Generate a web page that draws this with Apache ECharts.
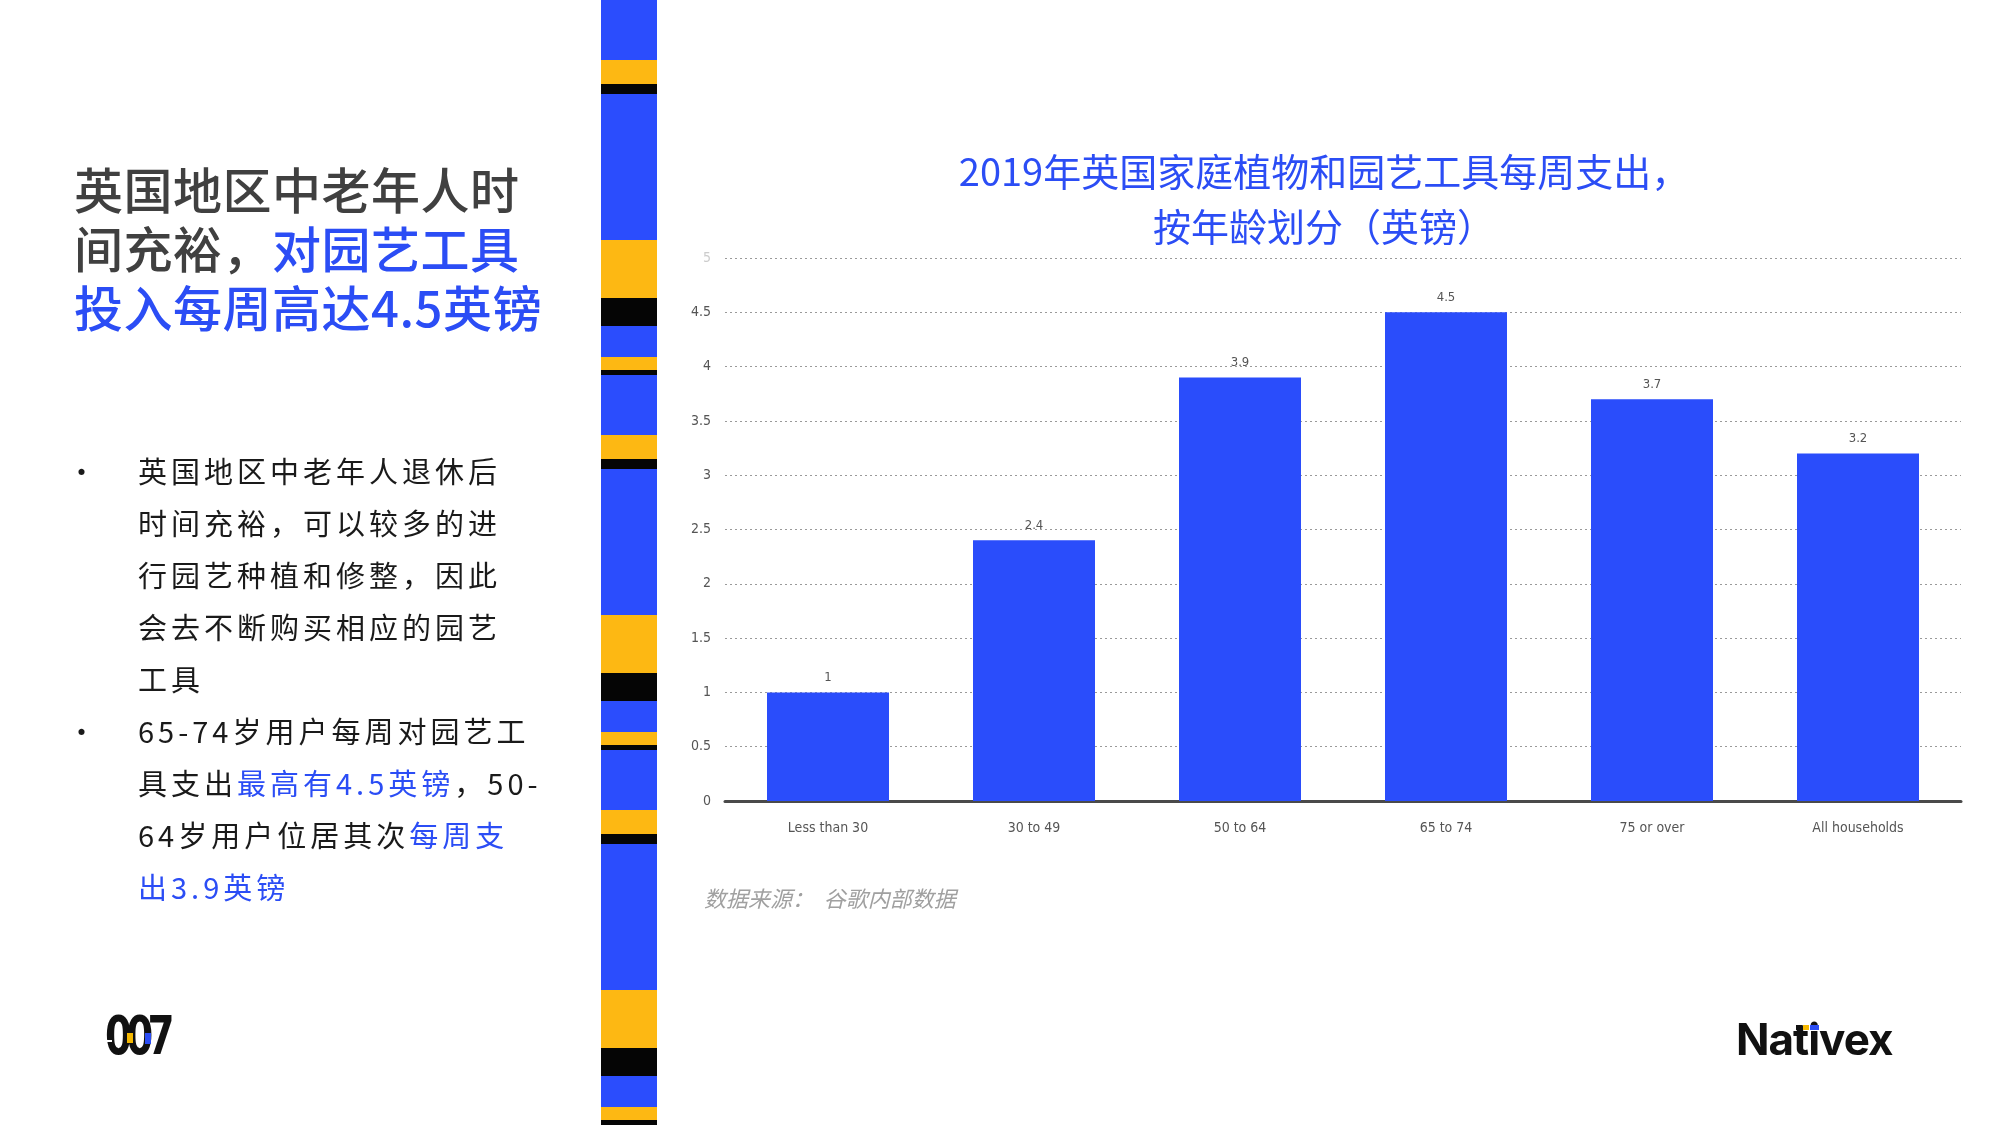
<!DOCTYPE html>
<html>
<head>
<meta charset="utf-8">
<title>英国家庭园艺工具每周支出</title>
<script src="https://cdn.jsdelivr.net/npm/echarts@6/dist/echarts.min.js"></script>
<style>
    body { margin: 0; width: 2000px; height: 1125px; position: relative; background: #fff; overflow: hidden;
           font-family: "Noto Sans CJK SC", "Noto Sans", sans-serif; }
    #main { position: absolute; left: 0; top: 0; width: 2000px; height: 1125px; }
    .blue { color: #2b4df5; }
    #heading { position: absolute; left: 74px; top: 158px; font-size: 49px; line-height: 59px; color: #404040;
               font-weight: 500; letter-spacing: 0.5px; }
    #bullets { position: absolute; left: 74px; top: 444px; font-size: 29px; line-height: 52px; color: #1a1a1a;
               letter-spacing: 4px; }
    .item { position: relative; padding-left: 64px; width: 500px; }
    .item:before { content: "•"; position: absolute; left: -7px; top: 0; }
    #stripe { position: absolute; left: 601px; top: 0; width: 56px; height: 1125px; }
    #stripe div { position: absolute; left: 0; width: 56px; }
    #logo007 { position: absolute; left: 105px; top: 1006px; font-family: "DejaVu Sans"; font-weight: bold;
               font-size: 54px; line-height: 60px; letter-spacing: -8px; color: #111;
               transform: scaleX(0.72); transform-origin: left top; }
    #nativex { position: absolute; left: 1736px; top: 1012px; font-family: "Inter", "Noto Sans"; font-weight: 700;
               font-size: 44px; color: #111; letter-spacing: -1px; }
</style>
</head>
<body>
<div id="main"></div>
<div id="stripe"></div>
<div id="heading">英国地区中老年人时<br>间充裕，<span class="blue">对园艺工具<br>投入每周高达4.5英镑</span></div>
<div id="bullets">
    <div class="item">英国地区中老年人退休后<br>时间充裕，可以较多的进<br>行园艺种植和修整，因此<br>会去不断购买相应的园艺<br>工具</div>
    <div class="item">65-74岁用户每周对园艺工<br>具支出<span class="blue">最高有4.5英镑</span>，50-<br>64岁用户位居其次<span class="blue">每周支<br>出3.9英镑</span></div>
</div>
<div id="logo007">007</div>
<div style="position:absolute;left:104px;top:1040px;width:8px;height:2px;background:#fff;"></div>
<div style="position:absolute;left:127px;top:1033px;width:6px;height:10px;background:#f5b800;"></div>
<div style="position:absolute;left:145px;top:1033px;width:6px;height:11px;background:#2b4df5;"></div>
<div id="nativex">Nativex</div>
<div style="position:absolute;left:1796px;top:1025px;width:6px;height:5px;background:#111;"></div>
<div style="position:absolute;left:1803px;top:1025px;width:6px;height:5px;background:#f5b800;"></div>
<div style="position:absolute;left:1810px;top:1025px;width:9px;height:5px;background:#2b4df5;"></div>
<script type="text/javascript">
    // 数据
    var categories = ['Less than 30', '30 to 49', '50 to 64', '65 to 74', '75 or over', 'All households'];
    var spending = [1, 2.4, 3.9, 4.5, 3.7, 3.2];
    var yTicks = [0, 0.5, 1, 1.5, 2, 2.5, 3, 3.5, 4, 4.5, 5];

    // 左侧装饰条：[起点, 终点, 颜色]，周期 375px
    var stripeBands = [
        [0, 60, '#2b4dfd'], [60, 84, '#fdb813'], [84, 94, '#050505'], [94, 240, '#2b4dfd'],
        [240, 298, '#fdb813'], [298, 326, '#050505'], [326, 357, '#2b4dfd'], [357, 370, '#fdb813'],
        [370, 375, '#050505']
    ];
    var stripe = document.getElementById('stripe');
    for (var p = 0; p < 1125; p += 375) {
        stripeBands.forEach(function (b) {
            var d = document.createElement('div');
            d.style.top = (b[0] + p) + 'px';
            d.style.height = (b[1] - b[0]) + 'px';
            d.style.background = b[2];
            stripe.appendChild(d);
        });
    }

    var myChart = echarts.init(document.getElementById('main'));
    var narrow = '"Liberation Sans Narrow", "DejaVu Sans Condensed", sans-serif';
    var option = {
        animation: false,
        title: {
            text: '2019年英国家庭植物和园艺工具每周支出，\n按年龄划分（英镑）',
            left: 1319,
            top: 139,
            textAlign: 'center',
            textStyle: {
                color: '#2b4df5',
                fontSize: 38,
                fontWeight: 'normal',
                lineHeight: 55,
                fontFamily: '"Noto Sans CJK SC", sans-serif'
            }
        },
        grid: {
            left: 725,
            right: 39,
            top: 258,
            bottom: 324
        },
        xAxis: {
            type: 'category',
            data: categories,
            axisLine: { lineStyle: { color: '#4a4a4a', width: 3 } },
            axisTick: { show: false },
            axisLabel: { color: '#555', fontSize: 14, fontFamily: narrow, margin: 20 }
        },
        yAxis: {
            type: 'value',
            min: 0,
            max: 5,
            interval: 0.5,
            axisLine: { show: false },
            axisTick: { show: false },
            splitLine: { lineStyle: { color: '#9a9a9a', type: [2, 3], width: 1 } },
            axisLabel: {
                color: '#555',
                fontSize: 14,
                fontFamily: narrow,
                margin: 14,
                formatter: function (v) {
                    return yTicks.indexOf(v) === yTicks.length - 1 ? '{f|' + v + '}' : String(v);
                },
                rich: { f: { color: '#ccc', fontSize: 14, fontFamily: narrow } }
            }
        },
        series: [{
            type: 'bar',
            data: spending,
            barWidth: 122,
            itemStyle: { color: '#2a4dfb' },
            label: {
                show: true,
                position: 'top',
                distance: 8,
                color: '#555',
                fontSize: 13,
                fontFamily: narrow
            }
        }],
        graphic: [{
            type: 'text',
            left: 704,
            top: 888,
            style: {
                text: '数据来源：  谷歌内部数据',
                fill: '#a0a0a0',
                fontSize: 22,
                fontStyle: 'italic',
                fontFamily: '"Noto Sans CJK SC", sans-serif'
            }
        }]
    };
    myChart.setOption(option);
</script>
</body>
</html>
